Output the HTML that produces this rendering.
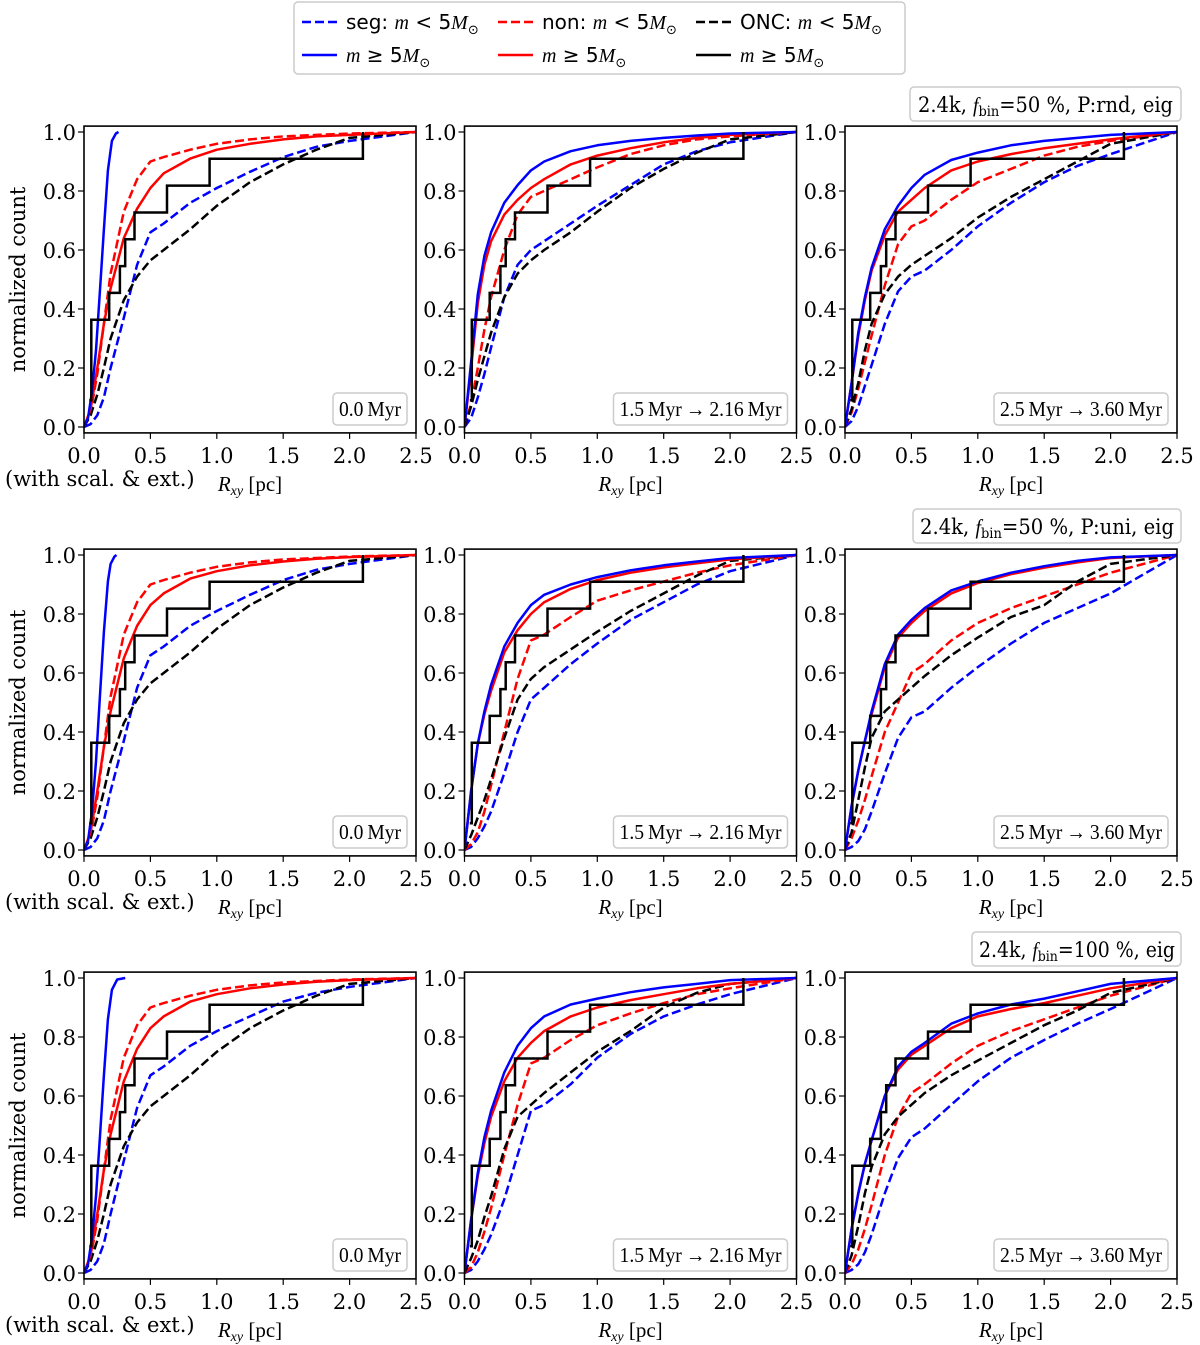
<!DOCTYPE html>
<html><head><meta charset="utf-8"><style>
body{margin:0;background:#fff;}
svg{display:block;}
text{font-family:"DejaVu Serif","Liberation Serif",serif;fill:#000;}
.tk{font-size:21px;}
.tm{font-family:"Liberation Serif",serif;font-size:21px;}
.lg{font-family:"DejaVu Sans","Liberation Sans",sans-serif;font-size:20px;}
.it{font-family:"Liberation Serif",serif;font-style:italic;}
</style></head><body>
<svg id="fig" width="1200" height="1345" viewBox="0 0 1200 1345">
<g id="legend">
<rect x="294" y="2" width="611" height="72" rx="4" fill="#fff" stroke="#ccc" stroke-width="1.5"/>
<g><line x1="302" y1="22" x2="337" y2="22" stroke="#0000ff" stroke-width="2.5" stroke-dasharray="9,4"/>
<text class="lg" x="346" y="29">seg: <tspan class="it">m</tspan> &lt; 5<tspan class="it">M</tspan><tspan font-size="13" dy="5">⊙</tspan></text></g>
<g><line x1="302" y1="55" x2="337" y2="55" stroke="#0000ff" stroke-width="2.5"/>
<text class="lg" x="346" y="62"><tspan class="it">m</tspan> ≥ 5<tspan class="it">M</tspan><tspan font-size="13" dy="5">⊙</tspan></text></g>
<g><line x1="498" y1="22" x2="533" y2="22" stroke="#ff0000" stroke-width="2.5" stroke-dasharray="9,4"/>
<text class="lg" x="542" y="29">non: <tspan class="it">m</tspan> &lt; 5<tspan class="it">M</tspan><tspan font-size="13" dy="5">⊙</tspan></text></g>
<g><line x1="498" y1="55" x2="533" y2="55" stroke="#ff0000" stroke-width="2.5"/>
<text class="lg" x="542" y="62"><tspan class="it">m</tspan> ≥ 5<tspan class="it">M</tspan><tspan font-size="13" dy="5">⊙</tspan></text></g>
<g><line x1="696" y1="22" x2="731" y2="22" stroke="#000" stroke-width="2.5" stroke-dasharray="9,4"/>
<text class="lg" x="740" y="29">ONC: <tspan class="it">m</tspan> &lt; 5<tspan class="it">M</tspan><tspan font-size="13" dy="5">⊙</tspan></text></g>
<g><line x1="696" y1="55" x2="731" y2="55" stroke="#000" stroke-width="2.5"/>
<text class="lg" x="740" y="62"><tspan class="it">m</tspan> ≥ 5<tspan class="it">M</tspan><tspan font-size="13" dy="5">⊙</tspan></text></g>
</g>
<g><rect x="910" y="87" width="271" height="34" rx="4" fill="#fff" stroke="#ccc" stroke-width="1.5"/>
<text class="tk" x="918" y="112" font-size="20" textLength="255" lengthAdjust="spacingAndGlyphs">2.4k, <tspan class="it">f</tspan><tspan font-size="14" dy="4">bin</tspan><tspan dy="-4">=50 %, P:rnd, eig</tspan></text></g>
<g><rect x="913" y="509" width="268" height="34" rx="4" fill="#fff" stroke="#ccc" stroke-width="1.5"/>
<text class="tk" x="920" y="534" font-size="20" textLength="254" lengthAdjust="spacingAndGlyphs">2.4k, <tspan class="it">f</tspan><tspan font-size="14" dy="4">bin</tspan><tspan dy="-4">=50 %, P:uni, eig</tspan></text></g>
<g><rect x="972" y="932" width="209" height="34" rx="4" fill="#fff" stroke="#ccc" stroke-width="1.5"/>
<text class="tk" x="979" y="957" font-size="20" textLength="196" lengthAdjust="spacingAndGlyphs">2.4k, <tspan class="it">f</tspan><tspan font-size="14" dy="4">bin</tspan><tspan dy="-4">=100 %, eig</tspan></text></g>
</svg>
<script>
// shared radius grid (pc)
const X = [0,0.05,0.1,0.15,0.2,0.3,0.4,0.5,0.6,0.8,1.0,1.25,1.5,1.75,2.0,2.5];
const xTicks = [0,0.5,1.0,1.5,2.0,2.5];
const xTickLabels = ["0.0","0.5","1.0","1.5","2.0","2.5"];
const yTicks = [0,0.2,0.4,0.6,0.8,1.0];
const yTickLabels = ["0.0","0.2","0.4","0.6","0.8","1.0"];
const timeLabels = ["0.0\u2009Myr","1.5\u2009Myr\u2009→\u20092.16\u2009Myr","2.5\u2009Myr\u2009→\u20093.60\u2009Myr"];
// ONC observed massive stars radii
const oncR = [0.04,0.055,0.055,0.055,0.19,0.27,0.31,0.38,0.625,0.946,2.10];
// panel 1 (0.0 Myr) massive seg, own x grid
const segHighX_r1 = [0,0.03,0.06,0.09,0.12,0.15,0.18,0.21,0.24,0.26];
const segHighY_r1 = [0,0.03,0.12,0.26,0.46,0.67,0.87,0.97,0.995,1.0];
const segHighX_r2 = [0,0.03,0.06,0.09,0.12,0.15,0.18,0.2,0.23,0.245];
const segHighY_r2 = [0,0.03,0.13,0.3,0.52,0.74,0.91,0.97,0.995,1.0];
const segHighX_r3 = [0,0.03,0.06,0.09,0.12,0.15,0.18,0.21,0.25,0.31];
const segHighY_r3 = [0,0.03,0.12,0.26,0.46,0.67,0.86,0.96,0.995,1.0];
// row1 panel1
const r1p1_segLow = [0,0.01,0.04,0.1,0.2,0.37,0.55,0.66,0.69,0.76,0.81,0.865,0.915,0.95,0.97,1];
const r1p1_nonLow = [0,0.05,0.18,0.35,0.52,0.73,0.84,0.9,0.915,0.94,0.96,0.975,0.985,0.99,0.995,1];
const r1p1_nonHigh = [0,0.06,0.2,0.35,0.47,0.64,0.74,0.81,0.86,0.91,0.94,0.96,0.975,0.985,0.99,1];
const r1p1_oncLow = [0,0.04,0.11,0.2,0.3,0.43,0.51,0.565,0.6,0.67,0.75,0.83,0.89,0.94,0.98,1];
// row1 panel2
const r1p2_segHigh = [0,0.22,0.45,0.58,0.66,0.76,0.82,0.87,0.9,0.935,0.955,0.97,0.98,0.988,0.995,1];
const r1p2_segLow = [0,0.03,0.1,0.18,0.27,0.44,0.55,0.6,0.63,0.69,0.75,0.82,0.89,0.935,0.965,1];
const r1p2_nonHigh = [0,0.2,0.42,0.55,0.63,0.72,0.77,0.81,0.84,0.89,0.92,0.945,0.965,0.98,0.99,1];
const r1p2_nonLow = [0,0.08,0.2,0.33,0.44,0.6,0.72,0.78,0.8,0.84,0.88,0.925,0.955,0.975,0.985,1];
const r1p2_oncLow = [0,0.07,0.16,0.24,0.32,0.44,0.52,0.565,0.6,0.66,0.73,0.81,0.875,0.93,0.975,1];
// row1 panel3
const r1p3_segHigh = [0,0.15,0.32,0.44,0.54,0.67,0.75,0.81,0.855,0.905,0.93,0.955,0.97,0.98,0.99,1];
const r1p3_segLow = [0,0.02,0.07,0.14,0.21,0.35,0.46,0.51,0.53,0.6,0.68,0.76,0.83,0.885,0.925,1];
const r1p3_nonHigh = [0,0.15,0.31,0.43,0.53,0.65,0.73,0.77,0.81,0.87,0.9,0.925,0.945,0.96,0.975,1];
const r1p3_nonLow = [0,0.05,0.13,0.22,0.31,0.48,0.62,0.68,0.7,0.77,0.83,0.875,0.92,0.95,0.97,1];
const r1p3_oncLow = [0,0.06,0.15,0.26,0.35,0.45,0.51,0.55,0.58,0.64,0.71,0.78,0.84,0.9,0.96,1];
// row2 panel1
const r2p1_segLow = [0,0.01,0.04,0.1,0.2,0.37,0.55,0.66,0.69,0.76,0.81,0.865,0.915,0.95,0.97,1];
const r2p1_nonLow = [0,0.05,0.18,0.35,0.52,0.73,0.84,0.9,0.915,0.94,0.96,0.975,0.985,0.99,0.995,1];
const r2p1_nonHigh = [0,0.06,0.2,0.35,0.47,0.65,0.76,0.83,0.87,0.92,0.945,0.965,0.978,0.987,0.993,1];
const r2p1_oncLow = [0,0.04,0.11,0.2,0.3,0.43,0.51,0.565,0.6,0.67,0.75,0.83,0.89,0.94,0.98,1];
// row2 panel2
const r2p2_segHigh = [0,0.2,0.36,0.47,0.56,0.69,0.77,0.83,0.865,0.9,0.925,0.948,0.965,0.978,0.99,1];
const r2p2_segLow = [0,0.01,0.04,0.08,0.13,0.26,0.4,0.51,0.55,0.63,0.7,0.78,0.84,0.9,0.945,1];
const r2p2_nonHigh = [0,0.2,0.36,0.46,0.54,0.67,0.745,0.8,0.84,0.885,0.915,0.94,0.958,0.972,0.985,1];
const r2p2_nonLow = [0,0.02,0.06,0.13,0.22,0.4,0.58,0.71,0.73,0.79,0.845,0.88,0.91,0.94,0.965,1];
const r2p2_oncLow = [0,0.05,0.11,0.17,0.24,0.38,0.51,0.58,0.62,0.68,0.74,0.81,0.87,0.93,0.98,1];
// row2 panel3
const r2p3_segHigh = [0,0.15,0.27,0.37,0.47,0.63,0.73,0.78,0.82,0.88,0.91,0.94,0.962,0.98,0.992,1];
const r2p3_segLow = [0,0.01,0.03,0.07,0.13,0.26,0.38,0.45,0.47,0.55,0.62,0.7,0.77,0.82,0.87,1];
const r2p3_nonHigh = [0,0.15,0.27,0.37,0.46,0.62,0.72,0.77,0.81,0.87,0.905,0.935,0.957,0.975,0.99,1];
const r2p3_nonLow = [0,0.04,0.1,0.17,0.25,0.4,0.5,0.6,0.63,0.71,0.77,0.82,0.86,0.9,0.94,1];
const r2p3_oncLow = [0,0.06,0.17,0.28,0.38,0.47,0.51,0.55,0.59,0.66,0.72,0.79,0.83,0.91,0.97,1];
// row3 panel1
const r3p1_segLow = [0,0.01,0.04,0.1,0.2,0.38,0.56,0.67,0.7,0.77,0.82,0.87,0.92,0.95,0.97,1];
const r3p1_nonLow = [0,0.05,0.18,0.35,0.52,0.73,0.84,0.9,0.915,0.94,0.96,0.975,0.985,0.99,0.995,1];
const r3p1_nonHigh = [0,0.06,0.2,0.35,0.47,0.65,0.76,0.83,0.87,0.92,0.945,0.965,0.978,0.987,0.993,1];
const r3p1_oncLow = [0,0.04,0.11,0.2,0.3,0.43,0.51,0.565,0.6,0.67,0.75,0.83,0.89,0.94,0.98,1];
// row3 panel2
const r3p2_segHigh = [0,0.18,0.34,0.46,0.55,0.68,0.77,0.83,0.87,0.91,0.93,0.952,0.968,0.98,0.993,1];
const r3p2_segLow = [0,0.01,0.04,0.08,0.13,0.25,0.4,0.55,0.57,0.64,0.73,0.81,0.87,0.91,0.945,1];
const r3p2_nonHigh = [0,0.18,0.33,0.44,0.53,0.65,0.73,0.78,0.82,0.87,0.9,0.925,0.945,0.965,0.98,1];
const r3p2_nonLow = [0,0.02,0.07,0.14,0.22,0.4,0.57,0.71,0.73,0.79,0.84,0.88,0.915,0.945,0.965,1];
const r3p2_oncLow = [0,0.05,0.11,0.19,0.26,0.42,0.53,0.57,0.61,0.68,0.75,0.82,0.9,0.95,0.98,1];
// row3 panel3
const r3p3_segHigh = [0,0.15,0.27,0.37,0.45,0.6,0.7,0.75,0.78,0.845,0.88,0.91,0.93,0.955,0.98,1];
const r3p3_segLow = [0,0.01,0.03,0.07,0.13,0.27,0.39,0.46,0.49,0.57,0.65,0.73,0.79,0.845,0.895,1];
const r3p3_nonHigh = [0,0.15,0.27,0.37,0.45,0.6,0.69,0.74,0.77,0.83,0.87,0.895,0.915,0.94,0.965,1];
const r3p3_nonLow = [0,0.03,0.08,0.15,0.23,0.4,0.53,0.61,0.64,0.71,0.77,0.82,0.86,0.9,0.94,1];
const r3p3_oncLow = [0,0.06,0.16,0.27,0.36,0.47,0.53,0.57,0.61,0.67,0.72,0.78,0.84,0.89,0.95,1];

const panels = [
 {r:0,c:0,segHighX:segHighX_r1,segHigh:segHighY_r1,segLow:r1p1_segLow,nonHigh:r1p1_nonHigh,nonLow:r1p1_nonLow,oncLow:r1p1_oncLow},
 {r:0,c:1,segHigh:r1p2_segHigh,segLow:r1p2_segLow,nonHigh:r1p2_nonHigh,nonLow:r1p2_nonLow,oncLow:r1p2_oncLow},
 {r:0,c:2,segHigh:r1p3_segHigh,segLow:r1p3_segLow,nonHigh:r1p3_nonHigh,nonLow:r1p3_nonLow,oncLow:r1p3_oncLow},
 {r:1,c:0,segHighX:segHighX_r2,segHigh:segHighY_r2,segLow:r2p1_segLow,nonHigh:r2p1_nonHigh,nonLow:r2p1_nonLow,oncLow:r2p1_oncLow},
 {r:1,c:1,segHigh:r2p2_segHigh,segLow:r2p2_segLow,nonHigh:r2p2_nonHigh,nonLow:r2p2_nonLow,oncLow:r2p2_oncLow},
 {r:1,c:2,segHigh:r2p3_segHigh,segLow:r2p3_segLow,nonHigh:r2p3_nonHigh,nonLow:r2p3_nonLow,oncLow:r2p3_oncLow},
 {r:2,c:0,segHighX:segHighX_r3,segHigh:segHighY_r3,segLow:r3p1_segLow,nonHigh:r3p1_nonHigh,nonLow:r3p1_nonLow,oncLow:r3p1_oncLow},
 {r:2,c:1,segHigh:r3p2_segHigh,segLow:r3p2_segLow,nonHigh:r3p2_nonHigh,nonLow:r3p2_nonLow,oncLow:r3p2_oncLow},
 {r:2,c:2,segHigh:r3p3_segHigh,segLow:r3p3_segLow,nonHigh:r3p3_nonHigh,nonLow:r3p3_nonLow,oncLow:r3p3_oncLow}
];

const NS = "http://www.w3.org/2000/svg";
const svg = document.getElementById('fig');
const colLeft = [84, 464.5, 845], PW = 332;
const rowZero = [427, 850, 1273], YS = 295;
function mk(tag, attrs, parent){const e=document.createElementNS(NS,tag);for(const k in attrs)e.setAttribute(k,attrs[k]);parent.appendChild(e);return e;}

panels.forEach(p=>{
  const L = colLeft[p.c], Z = rowZero[p.r];
  const sx = v => L + v/2.5*PW;
  const sy = v => Z - v*YS;
  const top = sy(1.02), bot = sy(-0.02);
  const g = mk('g',{},svg);
  
  
  const clipId='clip'+p.r+p.c;
  const cp=mk('clipPath',{id:clipId},g); mk('rect',{x:L,y:top,width:PW,height:bot-top},cp);
  const plot = mk('g',{'clip-path':'url(#'+clipId+')'},g);
  function line(xs, ys, color, dashed, name){
    let d=''; ys.forEach((v,i)=>{d+=(i?'L':'M')+sx(xs[i]).toFixed(1)+','+sy(v).toFixed(1);});
    const e=mk('path',{d:d,fill:'none',stroke:color,'stroke-width':2.5,'stroke-linejoin':'round'},plot);
    if(dashed) e.setAttribute('stroke-dasharray','9,4');
    
    
  }
  line(X,p.segLow,'#0000ff',true,'seg-low-mass-curve');
  line(X,p.nonLow,'#ff0000',true,'non-low-mass-curve');
  line(X,p.oncLow,'#000000',true,'onc-low-mass-curve');
  line(X,p.nonHigh,'#ff0000',false,'non-high-mass-curve');
  line(p.segHighX||X,p.segHigh,'#0000ff',false,'seg-high-mass-curve');
  // ONC step
  const n=oncR.length; let lvl=1/n;
  let d='M'+sx(oncR[0]).toFixed(1)+','+sy(lvl).toFixed(1);
  for(let i=1;i<n;i++){ d+='H'+sx(oncR[i]).toFixed(1); lvl=(i+1)/n; d+='V'+sy(lvl).toFixed(1); }
  const st=mk('path',{d:d,fill:'none',stroke:'#000','stroke-width':2.5},plot);
  
  
  // frame
  const fr=mk('rect',{x:L,y:top,width:PW,height:bot-top,fill:'none',stroke:'#000','stroke-width':1.6},g);
  
  
  // ticks
  xTicks.forEach((v,i)=>{
    mk('line',{x1:sx(v),x2:sx(v),y1:bot,y2:bot+6,stroke:'#000','stroke-width':1.2},g);
    const t=mk('text',{x:sx(v),y:bot+30,'text-anchor':'middle',class:'tk'},g);
    t.textContent=xTickLabels[i];
    
    
  });
  yTicks.forEach((v,i)=>{
    mk('line',{x1:L-6,x2:L,y1:sy(v),y2:sy(v),stroke:'#000','stroke-width':1.2},g);
    const t=mk('text',{x:L-8,y:sy(v)+8,'text-anchor':'end',class:'tk'},g);
    t.textContent=yTickLabels[i];
    
    
  });
  // x axis title
  const xt=mk('text',{x:L+PW/2,y:bot+58,'text-anchor':'middle',class:'tm'},g);
  xt.innerHTML='<tspan font-style="italic">R</tspan><tspan font-style="italic" font-size="14" dy="4">xy</tspan><tspan dy="-4"> [pc]</tspan>';
  
  
  // time box
  const bw=[74,174,174][p.c];
  const tw=[62,162,162][p.c];
  const bx=L+PW-9-bw, by=Z-34;
  const tb=mk('g',{},g);
  
  
  mk('rect',{x:bx,y:by,width:bw,height:32,rx:4,fill:'#fff',stroke:'#ccc','stroke-width':1.5},tb);
  const tt=mk('text',{x:bx+(bw-tw)/2,y:by+23,class:'tm',textLength:tw,lengthAdjust:'spacingAndGlyphs'},tb);
  tt.textContent=timeLabels[p.c];
  if(p.c===0){
    const yl=mk('text',{x:0,y:0,'text-anchor':'middle',class:'tk',transform:'translate(25,'+(Z-YS/2)+') rotate(-90)'},g);
    yl.textContent='normalized count';
    
    
    const sc=mk('text',{x:5,y:bot+53,class:'tk','font-size':'20'},g);
    sc.textContent='(with scal. & ext.)';
    
    
  }
});
</script>
</body></html>
